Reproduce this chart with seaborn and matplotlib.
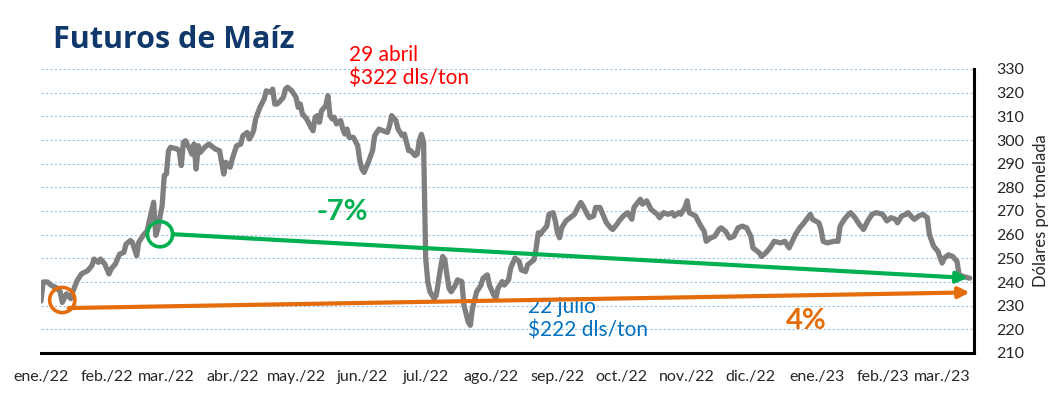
import pandas as pd
import matplotlib
matplotlib.use('Agg')
import matplotlib.pyplot as plt
import seaborn as sns

# dias desde el 1 de enero de 2022 y precio del futuro (dls/ton)
dias = [0, 1, 3, 5, 7, 9, 10, 12, 14, 15,
        17, 19, 22, 24, 25, 27, 28, 30, 32, 33,
        35, 37, 39, 40, 42, 43, 45, 46, 48, 50,
        51, 53, 54, 55, 57, 58, 59, 60, 61, 64,
        65, 66, 67, 68, 70, 71, 72, 73, 74, 75,
        77, 79, 80, 82, 84, 86, 87, 89, 90, 92,
        94, 95, 97, 98, 99, 100, 101, 103, 105, 106,
        108, 109, 110, 111, 112, 114, 115, 116, 118, 120,
        121, 122, 123, 125, 127, 128, 129, 130, 131, 132,
        134, 135, 136, 137, 138, 139, 141, 142, 143, 144,
        145, 147, 149, 150, 151, 152, 154, 156, 157, 159,
        161, 163, 164, 165, 167, 168, 170, 171, 172, 173,
        174, 176, 177, 178, 179, 180, 181, 182, 183, 185,
        186, 188, 189, 190, 191, 192, 193, 195, 196, 198,
        199, 201, 202, 203, 205, 207, 208, 210, 211, 213,
        214, 215, 217, 218, 220, 221, 223, 225, 226, 228,
        229, 230, 232, 233, 234, 235, 236, 238, 239, 241,
        242, 243, 244, 245, 247, 248, 250, 251, 253, 254,
        255, 257, 258, 260, 261, 263, 265, 266, 268, 269,
        271, 272, 274, 276, 278, 279, 282, 283, 285, 287,
        290, 291, 293, 295, 297, 298, 300, 301, 303, 304,
        305, 308, 310, 312, 313, 315, 317, 319, 320, 322,
        324, 326, 328, 330, 332, 334, 335, 338, 339, 341,
        343, 345, 348, 350, 352, 355, 357, 359, 362, 363,
        366, 367, 368, 370, 373, 375, 376, 378, 380, 381,
        383, 385, 387, 389, 391, 393, 396, 398, 400, 402,
        403, 405, 407, 408, 410, 411, 413, 415, 417, 418,
        420, 422, 424, 425, 427, 429, 431, 432, 434, 437]

precio = [232, 240, 240, 238.5, 237.7, 236, 231.4, 235, 233, 236,
          240.6, 243.4, 244.8, 247, 249.7, 248.3, 249.7, 247.6, 243.4, 245.5,
          247.6, 251.8, 252.5, 256, 257.5, 256.8, 251.1, 256.8, 259.6, 261.7,
          266, 273.7, 259.7, 262.5, 272.3, 285, 285.6, 295.5, 296.9, 296.2,
          295.5, 289.2, 299, 299.7, 296.2, 294, 298.3, 287.7, 297.6, 294.8,
          296.9, 298.3, 297.6, 296.2, 295.5, 285.6, 290.6, 288.5, 292, 297.5,
          298.3, 301.8, 303.2, 300.4, 301.8, 303.9, 308.9, 313.8, 317.3, 320.8,
          320.1, 321.5, 315.2, 315.2, 315.9, 318, 321.5, 322.3, 320.8, 318,
          313.8, 315.2, 311, 308.9, 305.4, 303.9, 309.6, 310.3, 307.5, 312.4,
          314.5, 318.7, 310.3, 308.9, 309.6, 306.8, 308.2, 304.6, 302.5, 304.6,
          301.1, 301.1, 297.6, 291.3, 287.7, 286.3, 290.6, 295.5, 301.8, 304.6,
          303.9, 303.2, 306.1, 310.3, 308.2, 304.6, 301.8, 302.5, 299, 295.5,
          295.5, 293.4, 294, 299.7, 302.4, 299, 250.1, 240.2, 235.9, 233,
          234.5, 245.9, 250.8, 249.4, 243, 237.3, 235.9, 238.7, 240.9, 240.2,
          230.2, 223.1, 221.7, 228.8, 235.9, 238.7, 241.6, 243, 238.7, 234.5,
          233, 237.3, 240.2, 238.7, 240.9, 245.9, 250.1, 248.7, 245.1, 244.4,
          247.3, 248, 249.4, 254.4, 260.8, 260.1, 261.5, 263.6, 268.6, 269.3,
          265.8, 260.8, 258.7, 262.9, 265.8, 266.5, 267.9, 268.6, 272.2, 273.6,
          272.2, 268.6, 267.2, 267.9, 271.5, 271.5, 267.2, 265.1, 262.9, 262.2,
          264.4, 265.8, 267.9, 269.3, 266.5, 271.5, 275, 272.9, 274.3, 270.7,
          268.6, 267.2, 269.3, 268.6, 269.3, 267.9, 269.3, 268.6, 271.5, 274.3,
          269.3, 267.9, 264.4, 261.5, 257.2, 258.6, 259.3, 262.2, 262.9, 261.5,
          258.6, 259.3, 262.9, 263.6, 262.9, 259.3, 254.4, 252.3, 250.8, 252.3,
          254.4, 257.2, 256.5, 257.2, 254.4, 260.1, 262.9, 265, 268.6, 266.5,
          265, 262.2, 257.2, 256.5, 257.2, 257.2, 263.6, 266.5, 268.6, 269.3,
          267.2, 264.4, 262.2, 265.8, 268.6, 269.3, 268.6, 265.8, 267.2, 266.5,
          265, 267.9, 268.6, 269.3, 267.2, 266.5, 267.9, 268.6, 267.2, 260.1,
          255.1, 253, 248, 250.1, 251.5, 250.8, 248.7, 243, 242.3, 241.6]

etiquetas_x = ['ene./22', 'feb./22', 'mar./22', 'abr./22', 'may./22', 'jun./22',
               'jul./22', 'ago./22', 'sep./22', 'oct./22', 'nov./22', 'dic./22',
               'ene./23', 'feb./23', 'mar./23']
ticks_y = [210, 220, 230, 240, 250, 260, 270, 280, 290, 300, 310, 320, 330]

# tendencias marcadas (dia, precio)
circulo_naranja = (10, 232.4)
linea_naranja = [(13, 229.0), (437, 235.6)]
circulo_verde = (56, 260.2)
linea_verde = [(62, 260.2), (436, 241.7)]

inicio = pd.Timestamp('2022-01-01')
def fecha(d):
    return inicio + pd.Timedelta(days=d)

df = pd.DataFrame({'fecha': [fecha(d) for d in dias], 'precio': precio})

sns.set_style('white')
plt.rcParams['font.family'] = ['Lato', 'DejaVu Sans']

GRIS = '#7F7F7F'
VERDE = '#00B050'
NARANJA = '#E46C0A'
AZUL = '#0070C0'
ROJO = '#FF0000'

fig = plt.figure(figsize=(10.49, 3.97), dpi=100)
ax = fig.add_axes([41/1049, 1 - 353/397, (974 - 41)/1049, (353 - 69)/397])

for v in ticks_y:
    ax.axhline(v, color='#9DC3E6', lw=0.8, ls=(0, (2, 2)), zorder=0)

sns.lineplot(data=df, x='fecha', y='precio', ax=ax, color=GRIS, lw=3.8,
             solid_joinstyle='round', solid_capstyle='round', zorder=3)

# flechas de tendencia
for puntos, col in [(linea_verde, VERDE), (linea_naranja, NARANJA)]:
    (d0, v0), (d1, v1) = puntos
    ax.annotate('', xy=(fecha(d1), v1), xytext=(fecha(d0), v0),
                arrowprops=dict(arrowstyle='-|>', color=col, lw=3,
                                mutation_scale=16, shrinkA=0, shrinkB=0),
                zorder=4)

for (d, v), col in [(circulo_verde, VERDE), (circulo_naranja, NARANJA)]:
    ax.scatter([fecha(d)], [v], s=330, facecolors='none', edgecolors=col,
               linewidths=2.6, zorder=5)

ax.set_xlim(fecha(0), fecha(439))
ax.set_ylim(210, 330)
ax.set_xticks(pd.date_range('2022-01-01', periods=len(etiquetas_x), freq='MS'))
ax.set_xticklabels(etiquetas_x, fontsize=11.5, color='#262626')
ax.set_yticks(ticks_y)
ax.set_yticklabels([str(v) for v in ticks_y], fontsize=11.5, color='#262626')
ax.yaxis.tick_right()
ax.yaxis.set_label_position('right')
ax.set_ylabel('Dólares por tonelada', fontsize=12, color='#262626', labelpad=6)
ax.set_xlabel('')

ax.tick_params(axis='x', direction='in', length=6, width=2, color='black', pad=12)
ax.tick_params(axis='y', length=0, pad=16)
for lado in ['left', 'top']:
    ax.spines[lado].set_visible(False)
for lado in ['bottom', 'right']:
    ax.spines[lado].set_color('black')
    ax.spines[lado].set_linewidth(2.2)

# textos
ax.text(fecha(145), 331, '29 abril\n$322 dls/ton', color=ROJO, fontsize=15,
        ha='left', va='center', linespacing=1.25)
ax.text(fecha(229), 224.4, '22 julio\n$222 dls/ton', color=AZUL, fontsize=15,
        ha='left', va='center', linespacing=1.25)
ax.text(fecha(141.6), 269.4, '-7%', color=VERDE, fontsize=21, fontweight='bold',
        ha='center', va='center')
ax.text(fecha(360), 223.5, '4%', color=NARANJA, fontsize=21, fontweight='bold',
        ha='center', va='center')

fig.text(53/1049, 1 - 48/397, 'Futuros de Maíz', color='#10386B', fontsize=22,
         fontweight='bold', family=['Open Sans', 'DejaVu Sans'], ha='left', va='baseline')

fig.savefig('out.png', dpi=100)
